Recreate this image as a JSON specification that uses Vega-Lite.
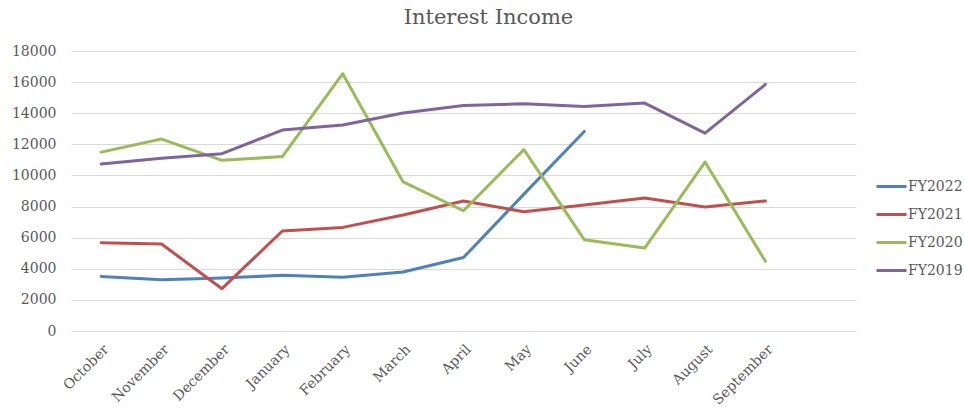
{
  "$schema": "https://vega.github.io/schema/vega-lite/v6.json",
  "width": 785,
  "height": 280,
  "autosize": "none",
  "padding": {"left": 71, "top": 51, "right": 108, "bottom": 79},
  "background": "white",
  "config": {
    "view": {"stroke": null},
    "font": "DejaVu Serif"
  },
  "title": {
    "text": "Interest Income",
    "font": "DejaVu Serif",
    "fontSize": 21,
    "fontWeight": "normal",
    "color": "#595959",
    "anchor": "middle",
    "dx": 25,
    "offset": 16
  },
  "data": {
    "values": [
      {"month": "October", "series": "FY2022", "value": 3500},
      {"month": "November", "series": "FY2022", "value": 3300},
      {"month": "December", "series": "FY2022", "value": 3400},
      {"month": "January", "series": "FY2022", "value": 3580},
      {"month": "February", "series": "FY2022", "value": 3450},
      {"month": "March", "series": "FY2022", "value": 3790},
      {"month": "April", "series": "FY2022", "value": 4720},
      {"month": "May", "series": "FY2022", "value": 8800},
      {"month": "June", "series": "FY2022", "value": 12830},
      {"month": "October", "series": "FY2021", "value": 5680},
      {"month": "November", "series": "FY2021", "value": 5590},
      {"month": "December", "series": "FY2021", "value": 2720},
      {"month": "January", "series": "FY2021", "value": 6430},
      {"month": "February", "series": "FY2021", "value": 6660},
      {"month": "March", "series": "FY2021", "value": 7460},
      {"month": "April", "series": "FY2021", "value": 8360},
      {"month": "May", "series": "FY2021", "value": 7670},
      {"month": "June", "series": "FY2021", "value": 8100},
      {"month": "July", "series": "FY2021", "value": 8550},
      {"month": "August", "series": "FY2021", "value": 7970},
      {"month": "September", "series": "FY2021", "value": 8360},
      {"month": "October", "series": "FY2020", "value": 11500},
      {"month": "November", "series": "FY2020", "value": 12340},
      {"month": "December", "series": "FY2020", "value": 10970},
      {"month": "January", "series": "FY2020", "value": 11210},
      {"month": "February", "series": "FY2020", "value": 16540},
      {"month": "March", "series": "FY2020", "value": 9580},
      {"month": "April", "series": "FY2020", "value": 7730},
      {"month": "May", "series": "FY2020", "value": 11660},
      {"month": "June", "series": "FY2020", "value": 5870},
      {"month": "July", "series": "FY2020", "value": 5330},
      {"month": "August", "series": "FY2020", "value": 10860},
      {"month": "September", "series": "FY2020", "value": 4480},
      {"month": "October", "series": "FY2019", "value": 10740},
      {"month": "November", "series": "FY2019", "value": 11100},
      {"month": "December", "series": "FY2019", "value": 11400},
      {"month": "January", "series": "FY2019", "value": 12920},
      {"month": "February", "series": "FY2019", "value": 13240},
      {"month": "March", "series": "FY2019", "value": 14010},
      {"month": "April", "series": "FY2019", "value": 14490},
      {"month": "May", "series": "FY2019", "value": 14610},
      {"month": "June", "series": "FY2019", "value": 14440},
      {"month": "July", "series": "FY2019", "value": 14650},
      {"month": "August", "series": "FY2019", "value": 12720},
      {"month": "September", "series": "FY2019", "value": 15850}
    ]
  },
  "mark": {"type": "line", "strokeWidth": 3, "strokeCap": "round", "strokeJoin": "round"},
  "encoding": {
    "x": {
      "field": "month",
      "type": "ordinal",
      "scale": {
        "type": "point",
        "padding": 0.5,
        "domain": ["October", "November", "December", "January", "February", "March", "April", "May", "June", "July", "August", "September", " "]
      },
      "axis": {
        "title": null,
        "domain": false,
        "ticks": false,
        "grid": false,
        "labelAngle": -45,
        "labelAlign": "right",
        "labelBaseline": "top",
        "labelFont": "DejaVu Serif",
        "labelFontSize": 14,
        "labelColor": "#595959",
        "labelPadding": 11
      }
    },
    "y": {
      "field": "value",
      "type": "quantitative",
      "scale": {"domain": [0, 18000], "nice": false},
      "axis": {
        "title": null,
        "values": [0, 2000, 4000, 6000, 8000, 10000, 12000, 14000, 16000, 18000],
        "format": "d",
        "domain": false,
        "ticks": false,
        "grid": true,
        "gridColor": "#d9d9d9",
        "gridWidth": 1,
        "labelFont": "DejaVu Serif",
        "labelFontSize": 14,
        "labelColor": "#595959",
        "labelPadding": 15
      }
    },
    "color": {
      "field": "series",
      "type": "nominal",
      "scale": {
        "domain": ["FY2022", "FY2021", "FY2020", "FY2019"],
        "range": ["#4F81BD", "#C0504D", "#9BBB59", "#8064A2"]
      },
      "legend": {
        "title": null,
        "orient": "none",
        "legendX": 804,
        "legendY": 119,
        "symbolType": "stroke",
        "symbolSize": 900,
        "symbolStrokeWidth": 3,
        "labelFont": "DejaVu Serif",
        "labelFontSize": 14,
        "labelColor": "#595959",
        "labelOffset": 0,
        "rowPadding": 4
      }
    }
  }
}
